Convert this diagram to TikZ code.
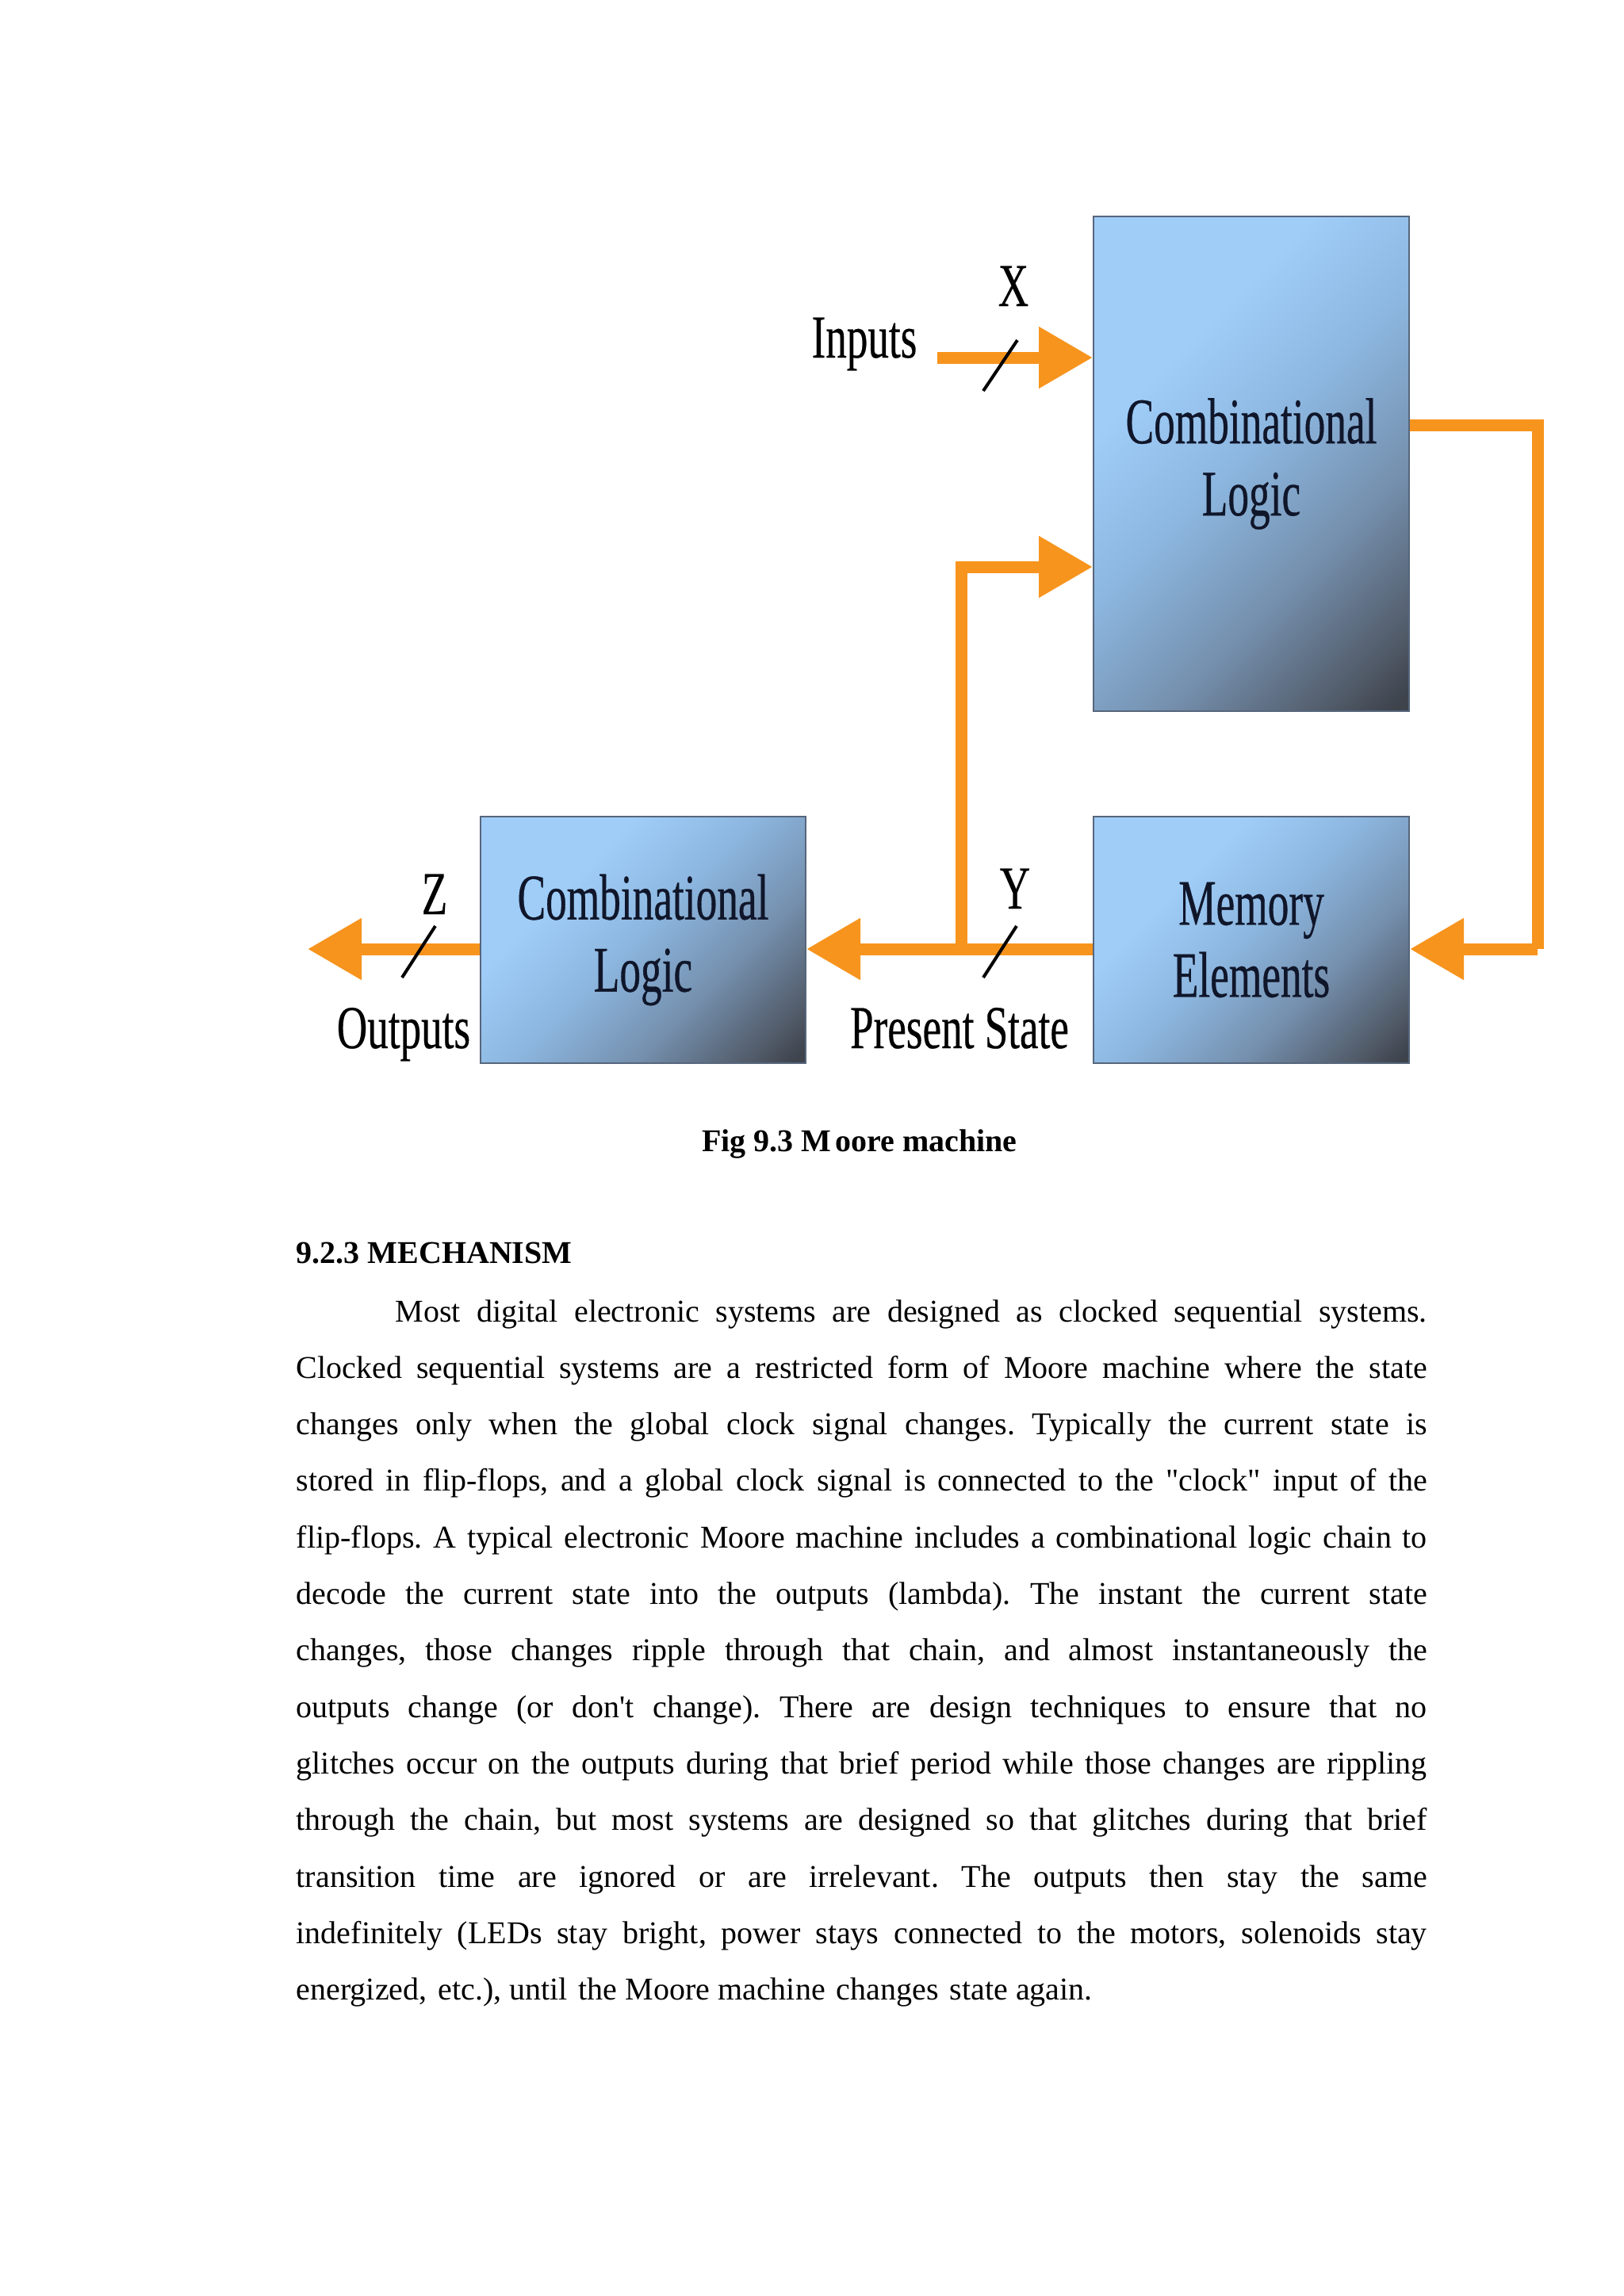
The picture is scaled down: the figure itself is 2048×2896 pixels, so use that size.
\documentclass[tikz,border=0pt]{standalone}
\usepackage{fontspec}
\setmainfont{Liberation Serif}
\newfontfamily\boxfont[FakeStretch=0.65,FakeBold=0.4]{Liberation Serif}
\newfontfamily\lblfont[FakeStretch=0.69,FakeBold=0.3]{Liberation Serif}
\usetikzlibrary{arrows.meta}
\definecolor{flowc}{HTML}{F7941D}
\definecolor{boxlight}{HTML}{9FCDF8}
\definecolor{boxlighttwo}{HTML}{8CB6DF}
\definecolor{boxmid}{HTML}{7590AE}
\definecolor{boxdarkmid}{HTML}{525C6A}
\definecolor{boxdark}{HTML}{3E434C}
\definecolor{boxedge}{HTML}{56667C}
\definecolor{boxtext}{HTML}{10162A}
\pgfdeclareverticalshading{boxsh}{100bp}{color(0bp)=(boxdark); color(16bp)=(boxdark); color(22bp)=(boxdarkmid); color(36bp)=(boxmid); color(51bp)=(boxlighttwo); color(66bp)=(boxlight); color(100bp)=(boxlight)}
\tikzset{
  blk/.style={draw=boxedge, line width=0.5pt, shading=boxsh, shading angle=45,
    inner sep=0pt, align=center, text=boxtext,
    font=\boxfont\fontsize{20.5pt}{22.75pt}\selectfont},
  flow/.style={draw=flowc, line width=3.75pt, line join=miter,
    -{Triangle[length=17pt,width=18.5pt]}},
  flowline/.style={draw=flowc, line width=3.75pt, line join=miter},
  slash/.style={draw=black, line width=1pt},
  lbl/.style={anchor=base, inner sep=0pt, font=\lblfont\fontsize{19.25pt}{21pt}\selectfont},
  jline/.style={anchor=base west, inner sep=0pt, font=\fontsize{10pt}{12pt}\selectfont},
  bold/.style={anchor=base west, inner sep=0pt, font=\bfseries\fontsize{10pt}{12pt}\selectfont}
}
\newcommand{\jl}[1]{\makebox[356.5pt][s]{#1}}
\newcommand{\straight}[1]{{\addfontfeature{Ligatures=TeXOff}#1}}
\frenchspacing
\begin{document}
\begin{tikzpicture}[x=0.25pt,y=-0.25pt]
\useasboundingbox[fill=white] (0,0) rectangle (2048,2896);

% boxes
\node[blk, minimum width=99.5pt, minimum height=156pt] (top) at (1578,585) {Combinational\\Logic};
\node[blk, minimum width=99.5pt, minimum height=77.75pt] (mem) at (1578,1185.5) {Memory\\Elements};
\node[blk, minimum width=102.5pt, minimum height=77.75pt] (out) at (811,1185.5) {Combinational\\Logic};

% coordinates
\coordinate (inS) at (1182,451);
\coordinate (fb) at (1939,536);
\coordinate (ps) at (1212,1197);
\coordinate (br) at (1212,715);
\coordinate (outE) at (388,1197);

% connectors
\draw[flow] (inS) -- (inS -| top.west);
\draw[flowline] (top.east |- fb) -- (fb) -- (fb |- ps);
\draw[flow] (fb |- ps) -- (ps -| mem.east);
\draw[flow] (ps -| mem.west) -- (ps -| out.east);
\draw[flow] (ps) -- (br) -- (br -| top.west);
\draw[flow] (ps -| out.west) -- (outE);

% bus slashes
\draw[slash] (1240,493) -- (1283,429);
\draw[slash] (1240,1233) -- (1282,1168);
\draw[slash] (507,1233) -- (549,1168);

% labels
\node[lbl] (linputs) at (1090,451) {Inputs};
\node[lbl] (lx) at (1278,386) {X};
\node[lbl] (lz) at (548,1153) {Z};
\node[lbl] (loutputs) at (509,1322) {Outputs};
\node[lbl] (ly) at (1280,1146) {Y};
\node[lbl] (lps) at (1210,1322) {Present State};

% caption and heading
\node[anchor=base, inner sep=0pt, font=\bfseries\fontsize{10pt}{12pt}\selectfont] (cap) at (1084,1452) {Fig 9.3 M\kern1.2pt oore machine};
\node[bold] (head) at (373,1593) {9.2.3 MECHANISM};

% body text
\node[jline] (t1) at (498,1667) {\makebox[325.25pt][s]{Most digital electronic systems are designed as clocked sequential systems.}};
\node[jline] (t2) at (373,1738) {\jl{Clocked sequential systems are a restricted form of Moore machine where the state}};
\node[jline] (t3) at (373,1809.6) {\jl{changes only when the global clock signal changes. Typically the current state is}};
\node[jline] (t4) at (373,1880.9) {\jl{stored in flip-flops, and a global clock signal is connected to the \straight{"clock"} input of the}};
\node[jline] (t5) at (373,1952.2) {\jl{flip-flops. A typical electronic Moore machine includes a combinational logic chain to}};
\node[jline] (t6) at (373,2023.5) {\jl{decode the current state into the outputs (lambda). The instant the current state}};
\node[jline] (t7) at (373,2094.8) {\jl{changes, those changes ripple through that chain, and almost instantaneously the}};
\node[jline] (t8) at (373,2166.1) {\jl{outputs change (or \straight{don't} change). There are design techniques to ensure that no}};
\node[jline] (t9) at (373,2237.4) {\jl{glitches occur on the outputs during that brief period while those changes are rippling}};
\node[jline] (t10) at (373,2308.7) {\jl{through the chain, but most systems are designed so that glitches during that brief}};
\node[jline] (t11) at (373,2380) {\jl{transition time are ignored or are irrelevant. The outputs then stay the same}};
\node[jline] (t12) at (373,2451.3) {\jl{indefinitely (LEDs stay bright, power stays connected to the motors, solenoids stay}};
\node[jline] (t13) at (373,2522.6) {energized,\hspace{3.5pt}etc.), until\hspace{3.5pt}the Moore machine\hspace{3.5pt}changes\hspace{3.5pt}state again.};
\end{tikzpicture}
\end{document}
